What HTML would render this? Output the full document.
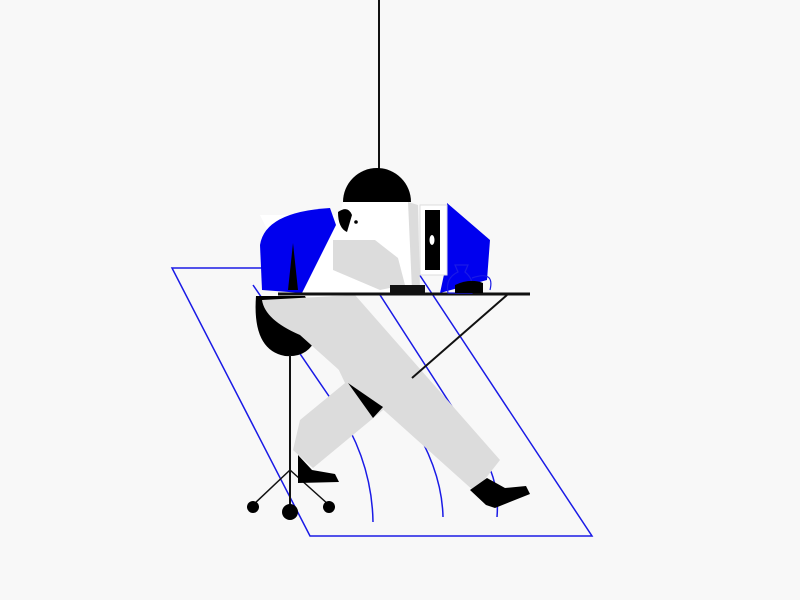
<!DOCTYPE html>
<html><head><meta charset="utf-8"><style>
html,body{margin:0;padding:0;background:#f8f8f8;width:800px;height:600px;overflow:hidden}
</style></head><body>
<svg width="800" height="600" viewBox="0 0 800 600">
<rect width="800" height="600" fill="#f8f8f8"/>
<g fill="none" stroke="#1a1ae6" stroke-width="1.5">
<polygon points="172,268 415,268 592,536 310,536"/>
<path d="M253 285 L335 405 Q372 460 373 522"/>
<path d="M320 290 L410 420 Q442 470 443 517"/>
<path d="M380 295 L480 450 Q500 480 497 517"/>
</g>
<line x1="379" y1="0" x2="379" y2="172" stroke="#111" stroke-width="2"/>
<path d="M343 202 A34 34 0 0 1 411 202 Z" fill="#000"/>
<g>
<path d="M256 296 L305 296 Q318 320 316 338 Q308 358 285 356 Q252 350 256 296 Z" fill="#000"/>
<line x1="290" y1="355" x2="290" y2="510" stroke="#111" stroke-width="2"/>
<line x1="290" y1="470" x2="253" y2="505" stroke="#111" stroke-width="1.5"/>
<line x1="290" y1="470" x2="329" y2="505" stroke="#111" stroke-width="1.5"/>
<circle cx="253" cy="507" r="6" fill="#000"/><circle cx="290" cy="512" r="8" fill="#000"/><circle cx="329" cy="507" r="6" fill="#000"/>
</g>
<g>
<path d="M260 215 L335 215 L350 245 L330 300 L300 295 Z" fill="#fff"/>
<path d="M343 202 L410 202 L418 260 L420 290 L395 293 L300 293 L340 215 Z" fill="#fff"/>
<path d="M408 202 L418 205 L420 290 L412 290 Z" fill="#dcdcdc"/>
<path d="M333 240 L375 240 L398 258 L405 285 L380 290 L333 270 Z" fill="#dcdcdc"/>
<path d="M262 290 L260 245 Q265 212 330 208 L336 225 L302 293 Z" fill="#0000ee"/>
<path d="M293 243 L298 290 L288 290 Z" fill="#000"/>
<path d="M338 212 Q348 205 352 215 L347 232 Q338 228 338 212 Z" fill="#000"/>
<circle cx="356" cy="222" r="1.8" fill="#000"/>
<path d="M262 300 L355 295 L500 460 L475 492 L300 335 Q265 320 262 300 Z" fill="#dcdcdc"/>
<path d="M320 330 L360 360 L383 410 L313 468 L293 450 L300 420 L345 383 Z" fill="#dcdcdc"/>
<path d="M348 383 L383 407 L373 418 Z" fill="#000"/>
<path d="M298 455 L312 470 L335 474 L339 482 L298 483 Z" fill="#000"/>
<path d="M470 490 L487 478 L505 488 L526 486 L530 494 L495 508 L486 505 Z" fill="#000"/>
</g>
<g>
<line x1="278" y1="294" x2="530" y2="294" stroke="#111" stroke-width="3"/>
<line x1="507" y1="295" x2="412" y2="378" stroke="#111" stroke-width="2"/>
</g>
<g>
<path d="M447 203 L490 240 L487 280 L440 293 L445 270 Z" fill="#0000ee"/>
<rect x="420" y="205" width="27" height="70" fill="#fff" stroke="#ddd"/>
<rect x="425" y="210" width="15" height="60" fill="#000"/>
<ellipse cx="432" cy="240" rx="2.5" ry="5" fill="#fff"/>
</g>
<rect x="390" y="285" width="35" height="9" fill="#111"/>
<g>
<path d="M455 265 L468 265 L465 272 Q475 280 472 293 L448 293 Q445 278 458 272 Z" fill="none" stroke="#1a1ae6" stroke-width="1.2"/>
<path d="M472 278 Q495 270 490 290" fill="none" stroke="#1a1ae6" stroke-width="1.2"/>
<path d="M455 285 Q470 278 483 283 L483 293 L455 293 Z" fill="#000"/>
</g>
</svg>
</body></html>
